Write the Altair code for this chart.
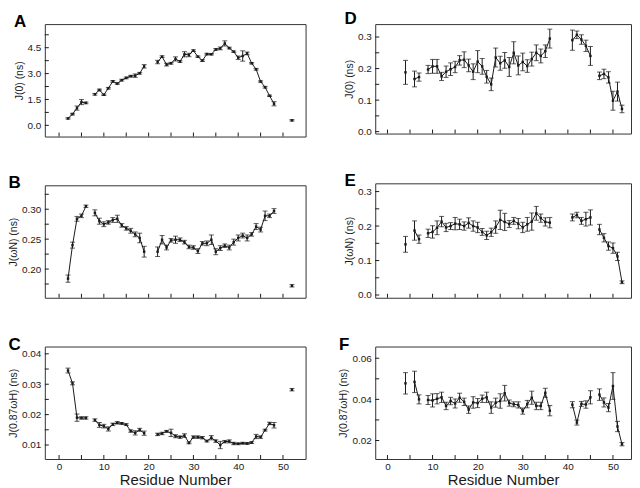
import altair as alt
import pandas as pd

# ---------------- data ----------------
res_left = [2, 3, 4, 5, 6,
            8, 9, 10, 11, 12, 13, 14, 15, 16, 17, 18, 19,
            22, 23, 24, 25, 26, 27, 28, 29, 30, 31, 32, 33, 34, 35, 36, 37, 38, 39, 40,
            41, 42, 43, 44, 45, 46, 47, 48,
            52]
res_right = [4,
             6, 7,
             9, 10, 11, 12, 13, 14, 15, 16, 17, 18, 19, 20, 21, 22, 23, 24, 25, 26, 27, 28,
             29, 30, 31, 32, 33, 34, 35, 36,
             41, 42, 43, 44, 45,
             47, 48, 49, 50, 51, 52]

A_val = [0.40, 0.65, 1.00, 1.35, 1.30,
         1.80, 2.05, 1.77, 2.15, 2.55, 2.42, 2.62, 2.75, 2.85, 2.88, 3.02, 3.42,
         3.67, 3.98, 3.52, 3.60, 3.85, 3.70, 4.12, 4.08, 4.33, 3.98, 3.75, 4.13, 4.12, 4.40,
         4.46, 4.75, 4.48, 4.27, 3.92, 4.02, 4.17, 3.60, 3.25, 2.54, 2.21, 1.71, 1.25,
         0.29]
A_err = [0.04, 0.05, 0.12, 0.15, 0.05,
         0.05, 0.05, 0.04, 0.05, 0.05, 0.04, 0.05, 0.05, 0.05, 0.10, 0.05, 0.10,
         0.10, 0.05, 0.08, 0.05, 0.12, 0.05, 0.15, 0.10, 0.05, 0.04, 0.05, 0.05, 0.04, 0.05,
         0.08, 0.15, 0.05, 0.04, 0.10, 0.30, 0.08, 0.04, 0.05, 0.04, 0.05, 0.04, 0.12,
         0.04]

B_val = [0.184, 0.240, 0.284, 0.289, 0.305,
         0.294, 0.280, 0.275, 0.278, 0.282, 0.284, 0.273, 0.268, 0.264, 0.258, 0.252, 0.229,
         0.229, 0.249, 0.236, 0.248, 0.249, 0.249, 0.245, 0.237, 0.236, 0.230, 0.243, 0.243,
         0.249, 0.229, 0.235, 0.239, 0.236, 0.245, 0.252, 0.256, 0.252, 0.258, 0.271, 0.266,
         0.289, 0.289, 0.297,
         0.172]
B_err = [0.006, 0.005, 0.004, 0.003, 0.002,
         0.005, 0.005, 0.004, 0.003, 0.004, 0.006, 0.003, 0.003, 0.004, 0.004, 0.008, 0.009,
         0.008, 0.007, 0.004, 0.003, 0.006, 0.003, 0.003, 0.003, 0.003, 0.004, 0.003, 0.004,
         0.008, 0.005, 0.004, 0.003, 0.004, 0.005, 0.005, 0.004, 0.005, 0.003, 0.005, 0.004,
         0.008, 0.003, 0.004,
         0.002]

C_val = [0.0345, 0.0303, 0.0190, 0.0189, 0.0189,
         0.0182, 0.0166, 0.0162, 0.0153, 0.0168, 0.0173, 0.0171, 0.0167, 0.0146, 0.0140,
         0.0150, 0.0139,
         0.0135, 0.0138, 0.0145, 0.0140, 0.0129, 0.0126, 0.0131, 0.0107, 0.0126, 0.0126,
         0.0124, 0.0113, 0.0124, 0.0113, 0.0100, 0.0111, 0.0112, 0.0105, 0.0104, 0.0106,
         0.0105, 0.0108, 0.0128, 0.0126, 0.0149, 0.0171, 0.0165,
         0.0282]
C_err = [0.0008, 0.0005, 0.0012, 0.0004, 0.0004,
         0.0004, 0.0008, 0.0006, 0.0007, 0.0004, 0.0004, 0.0003, 0.0003, 0.0004, 0.0007,
         0.0005, 0.0007,
         0.0004, 0.0004, 0.0003, 0.0012, 0.0005, 0.0004, 0.0006, 0.0003, 0.0004, 0.0004,
         0.0004, 0.0003, 0.0007, 0.0004, 0.0012, 0.0004, 0.0005, 0.0004, 0.0003, 0.0003,
         0.0003, 0.0003, 0.0007, 0.0004, 0.0003, 0.0004, 0.0009,
         0.0004]

D_val = [0.188,
         0.167, 0.173,
         0.197, 0.207, 0.207, 0.175, 0.190, 0.198, 0.205, 0.226, 0.228, 0.210, 0.190, 0.222,
         0.207, 0.174, 0.150, 0.235, 0.217, 0.226, 0.205, 0.250, 0.210, 0.221, 0.208, 0.230,
         0.250, 0.240, 0.255, 0.295,
         0.290, 0.307, 0.292, 0.272, 0.240,
         0.177, 0.183, 0.172, 0.098, 0.127, 0.072]
D_err = [0.038,
         0.025, 0.013,
         0.013, 0.022, 0.022, 0.013, 0.018, 0.020, 0.018, 0.015, 0.025, 0.020, 0.025, 0.035,
         0.025, 0.020, 0.020, 0.030, 0.022, 0.025, 0.030, 0.035, 0.030, 0.028, 0.020, 0.022,
         0.025, 0.022, 0.020, 0.030,
         0.032, 0.012, 0.015, 0.018, 0.030,
         0.012, 0.015, 0.018, 0.030, 0.030, 0.012]

E_val = [0.147,
         0.187, 0.162,
         0.179, 0.183, 0.195, 0.213, 0.196, 0.200, 0.207, 0.205, 0.200, 0.209, 0.200, 0.196,
         0.183, 0.173, 0.182, 0.197, 0.218, 0.212, 0.206, 0.215, 0.207, 0.196, 0.205, 0.213,
         0.237, 0.223, 0.212, 0.210,
         0.225, 0.232, 0.215, 0.220, 0.225,
         0.190, 0.166, 0.142, 0.136, 0.112, 0.037]
E_err = [0.023,
         0.028, 0.012,
         0.012, 0.018, 0.020, 0.015, 0.012, 0.010, 0.018, 0.015, 0.012, 0.015, 0.015, 0.015,
         0.010, 0.012, 0.012, 0.018, 0.028, 0.025, 0.010, 0.010, 0.015, 0.015, 0.020, 0.025,
         0.020, 0.012, 0.012, 0.015,
         0.010, 0.008, 0.010, 0.020, 0.022,
         0.015, 0.012, 0.012, 0.015, 0.012, 0.004]

F_val = [0.0478,
         0.0485, 0.0400,
         0.0397, 0.0395, 0.0403, 0.0410, 0.0368, 0.0392, 0.0380, 0.0408, 0.0388, 0.0350,
         0.0385, 0.0382, 0.0403, 0.0410, 0.0360, 0.0384, 0.0392, 0.0430, 0.0382, 0.0376,
         0.0373, 0.0343, 0.0377, 0.0408, 0.0368, 0.0368, 0.0432, 0.0345,
         0.0374, 0.0287, 0.0378, 0.0375, 0.0410,
         0.0423, 0.0385, 0.0360, 0.0465, 0.0268, 0.0182]
F_err = [0.0052,
         0.0052, 0.0022,
         0.0022, 0.0032, 0.0025, 0.0025, 0.0018, 0.0018, 0.0022, 0.0022, 0.0018, 0.0018,
         0.0028, 0.0022, 0.0018, 0.0025, 0.0028, 0.0022, 0.0035, 0.0038, 0.0015, 0.0012,
         0.0015, 0.0015, 0.0018, 0.0032, 0.0018, 0.0018, 0.0022, 0.0025,
         0.0015, 0.0012, 0.0012, 0.0018, 0.0032,
         0.0028, 0.0022, 0.0020, 0.0065, 0.0025, 0.0008]

x_ticks = [0, 5, 10, 15, 20, 25, 30, 35, 40, 45, 50]
x_labels = [0, 10, 20, 30, 40, 50]

FONT = "Liberation Sans"
INK = "#1a1a1a"


def panel(letter, res, vals, errs, ytitle, ydom, yticks, ylabels, yfmt,
          xdom, width, height, show_x, toff):
    df = pd.DataFrame({"res": res, "val": vals, "err": errs})
    df["lo"] = df["val"] - df["err"]
    df["hi"] = df["val"] + df["err"]
    df["seg"] = (df["res"].diff() > 1).cumsum()

    xs = alt.Scale(domain=xdom, nice=False, zero=False)
    ys = alt.Scale(domain=ydom, nice=False, zero=False)
    if show_x:
        xaxis = alt.Axis(values=x_labels, format="d", ticks=False, domain=False, grid=False,
                         title="Residue Number", labelFontSize=10, titleFontSize=15,
                         labelPadding=3, titlePadding=1, labelColor=INK, titleColor=INK,
                         titleFontWeight="normal", labelFlush=False)
    else:
        xaxis = None
    yaxis = alt.Axis(values=ylabels, format=yfmt, ticks=False, domain=False, grid=False,
                     title=ytitle, labelFontSize=10, titleFontSize=10.5, labelPadding=4,
                     titlePadding=3, labelColor=INK, titleColor=INK, titleFontWeight="normal")

    def X(f):
        return alt.X(f, scale=xs, axis=xaxis, title="Residue Number" if show_x else None)

    def Y(f):
        return alt.Y(f, scale=ys, axis=yaxis, title=ytitle)

    base = alt.Chart(df)
    line = base.mark_line(color=INK, strokeWidth=1).encode(
        x=X("res:Q"), y=Y("val:Q"), detail="seg:N")
    bars = base.mark_rule(color=INK, strokeWidth=1).encode(
        x=X("res:Q"), y=Y("lo:Q"), y2="hi:Q")
    cap_lo = base.mark_tick(orient="horizontal", size=5, thickness=1, color=INK).encode(
        x=X("res:Q"), y=Y("lo:Q"))
    cap_hi = base.mark_tick(orient="horizontal", size=5, thickness=1, color=INK).encode(
        x=X("res:Q"), y=Y("hi:Q"))
    pts = base.mark_point(shape="square", filled=True, size=6, color=INK, opacity=1).encode(
        x=X("res:Q"), y=Y("val:Q"))

    xt = alt.Chart(pd.DataFrame({"t": x_ticks})).mark_rule(color=INK, strokeWidth=1).encode(
        x=X("t:Q"), y=alt.value(height), y2=alt.value(height - 4))
    yt = alt.Chart(pd.DataFrame({"t": yticks})).mark_rule(color=INK, strokeWidth=1).encode(
        y=Y("t:Q"), x=alt.value(0), x2=alt.value(4))

    return alt.layer(line, bars, cap_lo, cap_hi, pts, xt, yt).properties(
        width=width, height=height,
        title=alt.TitleParams(letter, anchor="start", frame="bounds", fontSize=17,
                              fontWeight="bold", font=FONT, color="black", offset=toff))


XL = [-3.18, 55.04]
XR = [-2.71, 54.0]

pA = panel("A", res_left, A_val, A_err, "J(0) (ns)", [-0.65, 5.87],
           [0, 0.75, 1.5, 2.25, 3.0, 3.75, 4.5, 5.25], [0, 1.5, 3.0, 4.5], ".1f",
           XL, 262, 113, False, -7)
pB = panel("B", res_left, B_val, B_err, "J(ωN) (ns)", [0.152, 0.34],
           [0.175, 0.2, 0.225, 0.25, 0.275, 0.3, 0.325], [0.20, 0.25, 0.30], ".2f",
           XL, 262, 113, False, -7)
pC = panel("C", res_left, C_val, C_err, "J(0.87ωH) (ns)", [0.0054, 0.0424],
           [0.01, 0.015, 0.02, 0.025, 0.03, 0.035, 0.04], [0.01, 0.02, 0.03, 0.04], ".2f",
           XL, 262, 113, True, -7)

pD = panel("D", res_right, D_val, D_err, "J(0) (ns)", [-0.006, 0.341],
           [0, 0.05, 0.1, 0.15, 0.2, 0.25, 0.3], [0, 0.1, 0.2, 0.3], ".1f",
           XR, 257, 110, False, -4)
pE = panel("E", res_right, E_val, E_err, "J(ωN) (ns)", [-0.008, 0.324],
           [0, 0.05, 0.1, 0.15, 0.2, 0.25, 0.3], [0, 0.1, 0.2, 0.3], ".1f",
           XR, 257, 115, False, -7)
pF = panel("F", res_right, F_val, F_err, "J(0.87ωH) (ns)", [0.011, 0.0657],
           [0.02, 0.03, 0.04, 0.05, 0.06], [0.02, 0.04, 0.06], ".2f",
           XR, 257, 113, True, -7)

left = alt.vconcat(pA, pB, pC, spacing=36)
right = alt.vconcat(pD, pE, pF, spacing=34)

chart = alt.hconcat(left, right, spacing=32).configure(
    padding=0, font=FONT
).configure_view(
    stroke="#333333", strokeWidth=1
)

chart.save("out.html", embed_options={"renderer": "svg", "actions": False})
